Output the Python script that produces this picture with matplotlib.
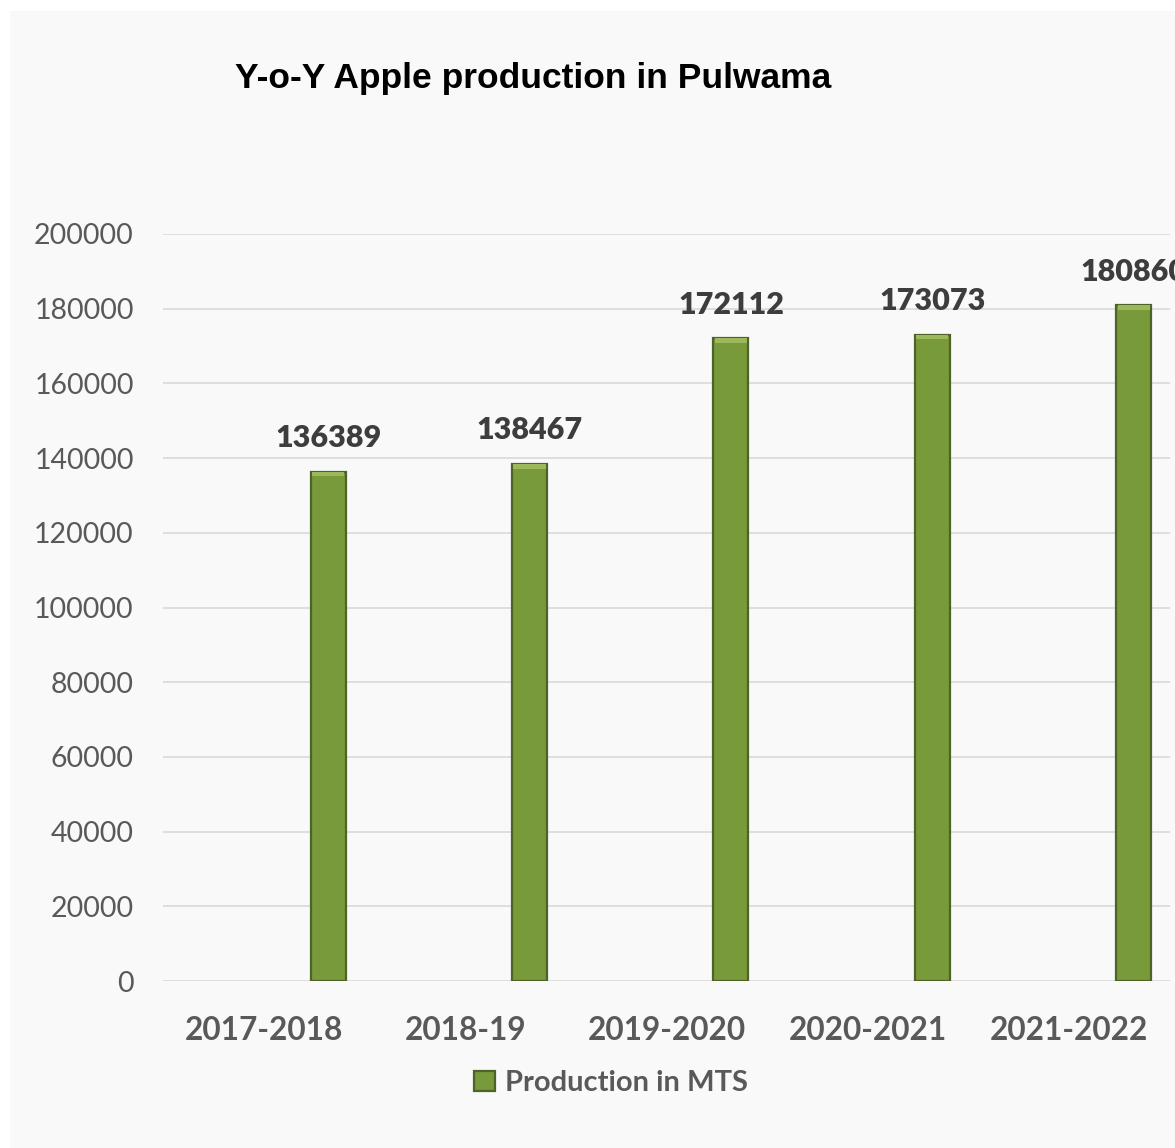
import matplotlib.pyplot as plt
from matplotlib.patches import Rectangle

# Apple production in Pulwama, metric tonnes
years = ["2017-2018", "2018-19", "2019-2020", "2020-2021", "2021-2022"]
production = [136389, 138467, 172112, 173073, 180860]
y_ticks = [0, 20000, 40000, 60000, 80000, 100000, 120000, 140000, 160000, 180000, 200000]

bar_color = "#789A3A"
edge_color = "#4F6228"
text_gray = "#595959"

fig = plt.figure(figsize=(11.75, 11.48), dpi=100, facecolor="white")

# light panel behind the chart
fig.patches.append(Rectangle((10 / 1175, 0), 1, (1148 - 11) / 1148,
                             transform=fig.transFigure, facecolor="#f9f9f9",
                             edgecolor="none", zorder=-10))

ax = fig.add_axes([163 / 1175, (1148 - 981) / 1148, (1170 - 163) / 1175, 747 / 1148])
ax.set_facecolor("none")

x = list(range(len(years)))
bar_x = [i + 0.32 for i in x]
bars = ax.bar(bar_x, production, width=0.174, color=bar_color,
              edgecolor=edge_color, linewidth=1.6, zorder=3,
              label="Production in MTS")

# lighter cap on the top of each bar
ax.bar(bar_x, [1300] * len(production), bottom=[v - 1300 for v in production],
       width=0.16, color="#9bb85c", edgecolor="none", zorder=4)

for bx, v in zip(bar_x, production):
    ax.annotate(f"{v}", (bx, v), xytext=(0, 14), textcoords="offset points",
                ha="center", va="bottom", fontsize=22, fontweight="heavy",
                color="#3d3d3d", family="Lato", annotation_clip=False)

ax.set_xlim(-0.5, 4.5)
ax.set_ylim(0, 200000)
ax.set_yticks(y_ticks)
ax.set_yticklabels([str(t) for t in y_ticks], fontsize=20.5, color=text_gray, family="Lato")
ax.set_xticks(x)
ax.set_xticklabels(years, fontsize=22.7, fontweight="bold", color=text_gray, family="Lato")
ax.tick_params(axis="y", length=0, pad=21)
ax.tick_params(axis="x", length=0, pad=25)

ax.grid(axis="y", color="#d9d9d9", linewidth=1.2, zorder=0)
ax.set_axisbelow(True)
for s in ax.spines.values():
    s.set_visible(False)

fig.text(235 / 1175, (1148 - 88) / 1148, "Y-o-Y Apple production in Pulwama",
         ha="left", va="baseline", fontsize=25.5, fontweight="bold",
         family="Liberation Sans", color="black")

leg = fig.legend(handles=[bars], labels=["Production in MTS"], loc="center",
                 bbox_to_anchor=(611 / 1175, (1148 - 1083) / 1148), frameon=False,
                 handlelength=0.7, handleheight=0.7, handletextpad=0.35,
                 prop={"family": "Lato", "weight": "bold", "size": 21})
for t in leg.get_texts():
    t.set_color(text_gray)

fig.savefig("out.png", dpi=100, facecolor="white")
